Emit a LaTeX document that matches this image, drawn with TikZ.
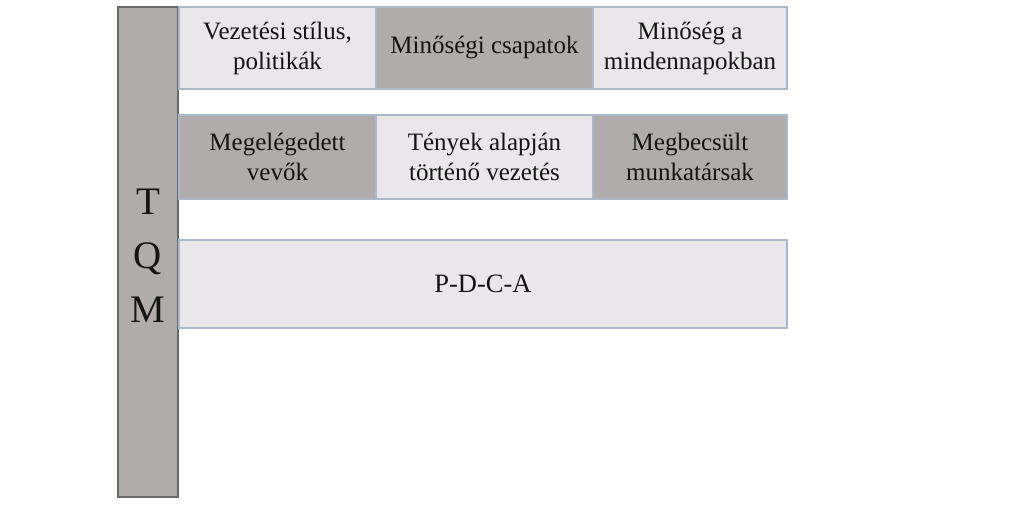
\documentclass[tikz,border=0pt]{standalone}
\usepackage{fontspec}
\setmainfont{Liberation Serif}
\definecolor{lightfill}{RGB}{233,231,233}
\definecolor{darkfill}{RGB}{176,172,172}
\definecolor{boxline}{RGB}{172,184,202}
\definecolor{barline}{RGB}{105,105,105}
\begin{document}
\begin{tikzpicture}[x=1pt,y=1pt,
  cell/.style={draw=boxline, line width=1.3pt, inner sep=2pt, align=center,
    font=\fontsize{25}{30}\selectfont, text=black!92},
  lightcell/.style={cell, fill=lightfill},
  darkcell/.style={cell, fill=darkfill},
  bar/.style={draw=barline, line width=1.3pt, fill=darkfill},
  bartext/.style={align=center, font=\fontsize{39}{54}\selectfont, text=black!92}]
\useasboundingbox (0,0) rectangle (1024,505);
\fill[white] (0,0) rectangle (1024,505);
% TQM bar
\node[bar, minimum width=60, minimum height=490] (tqm) at (148,253) {};
\node[bartext] (tqmtext) at ([yshift=-4]tqm.center) {T\\Q\\M};
% Row 1
\node[lightcell, minimum width=197, minimum height=82] (r1a) at (277.5,457) {Vezetési stílus,\\politikák};
\node[darkcell, minimum width=217, minimum height=82] (r1b) at (484.5,457) {Minőségi csapatok};
\node[lightcell, minimum width=194, minimum height=82] (r1c) at (690,457) {Minőség a\\mindennapokban};
% Row 2
\node[darkcell, minimum width=197, minimum height=84] (r2a) at (277.5,348) {Megelégedett\\vevők};
\node[lightcell, minimum width=217, minimum height=84] (r2b) at (484.5,348) {Tények alapján\\történő vezetés};
\node[darkcell, minimum width=194, minimum height=84] (r2c) at (690,348) {Megbecsült\\munkatársak};
% Row 3
\node[lightcell, minimum width=608, minimum height=88] (r3) at (483,221) {\raisebox{-4pt}{\fontsize{26.5}{30}\selectfont P-D-C-A}};
\end{tikzpicture}
\end{document}
